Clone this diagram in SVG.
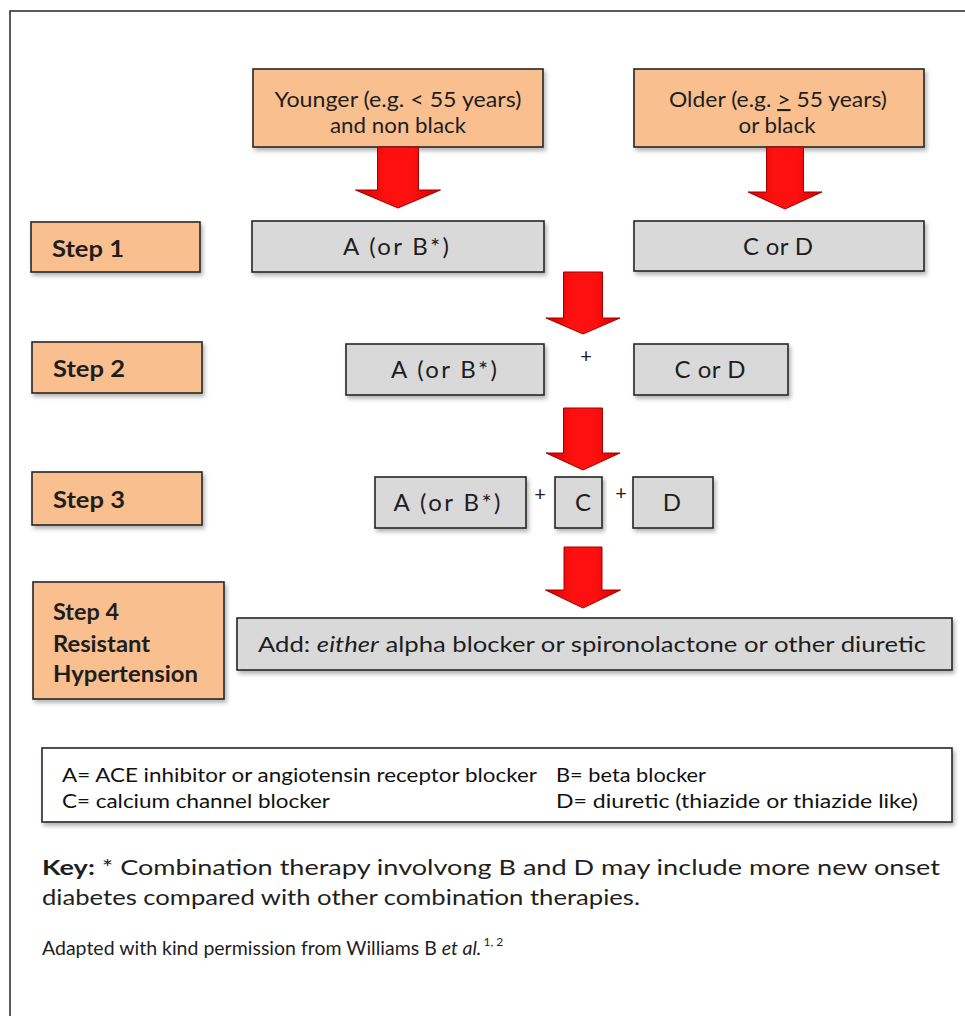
<svg xmlns="http://www.w3.org/2000/svg" width="965" height="1016" viewBox="0 0 965 1016">
<defs>
<style>
text{font-family:Lato,"Liberation Sans",sans-serif;fill:#1e1e1e}
.or{fill:#F9BF8F;stroke:#262626;stroke-width:1.6}
.gr{fill:#D9D9D9;stroke:#262626;stroke-width:1.6}
.lg{fill:#FFFFFF;stroke:#262626;stroke-width:1.6}
.hd{font-size:21px;text-anchor:middle}
.st{font-size:23px;font-weight:bold}
.bx{font-size:24px;text-anchor:middle}
.pl{font-size:20px;text-anchor:middle}
.le{font-size:18.5px;fill:#111}
.ky{font-size:21px}
.ar{fill:url(#red);stroke:#A00000;stroke-width:1}
</style>
<linearGradient id="red" x1="0" y1="0" x2="1" y2="0">
<stop offset="0" stop-color="#D00000"/>
<stop offset="0.35" stop-color="#FF1010"/>
<stop offset="0.65" stop-color="#FF1010"/>
<stop offset="1" stop-color="#D00000"/>
</linearGradient>
<filter id="sh" x="-5%" y="-10%" width="115%" height="130%">
<feDropShadow dx="2" dy="3" stdDeviation="2" flood-color="#000" flood-opacity="0.3"/>
</filter>
</defs>
<rect x="0" y="0" width="965" height="1016" fill="#FFFFFF"/>
<rect x="10" y="11" width="1000" height="1100" fill="none" stroke="#333" stroke-width="1.6"/>

<g id="younger">
<rect class="or" x="253" y="69" width="290" height="78" filter="url(#sh)"/>
<text class="hd" x="398" y="107" textLength="247" lengthAdjust="spacingAndGlyphs">Younger (e.g. &lt; 55 years)</text>
<text class="hd" x="398" y="133" textLength="136" lengthAdjust="spacingAndGlyphs">and non black</text>
</g>
<g id="older">
<rect class="or" x="634" y="69" width="290" height="78" filter="url(#sh)"/>
<text class="hd" x="778" y="107" textLength="218" lengthAdjust="spacingAndGlyphs">Older (e.g. <tspan text-decoration="underline">&gt;</tspan> 55 years)</text>
<text class="hd" x="777" y="133" textLength="77" lengthAdjust="spacingAndGlyphs">or black</text>
</g>

<g id="step1">
<rect class="or" x="31" y="222" width="169" height="50" filter="url(#sh)"/>
<text class="st" x="52" y="257" textLength="72" lengthAdjust="spacingAndGlyphs">Step 1</text>
</g>
<g id="s1a">
<rect class="gr" x="252" y="221" width="292" height="51" filter="url(#sh)"/>
<text class="bx" x="396" y="255" textLength="106" lengthAdjust="spacing">A (or B*)</text>
</g>
<g id="s1cd">
<rect class="gr" x="634" y="221" width="290" height="50" filter="url(#sh)"/>
<text class="bx" x="778" y="255" textLength="70" lengthAdjust="spacing">C or D</text>
</g>

<g id="step2">
<rect class="or" x="32" y="342" width="170" height="51" filter="url(#sh)"/>
<text class="st" x="53" y="377" textLength="72" lengthAdjust="spacingAndGlyphs">Step 2</text>
</g>
<g id="s2a">
<rect class="gr" x="346" y="344" width="198" height="51" filter="url(#sh)"/>
<text class="bx" x="444" y="378" textLength="106" lengthAdjust="spacing">A (or B*)</text>
</g>
<text class="pl" x="586" y="363">+</text>
<g id="s2cd">
<rect class="gr" x="634" y="344" width="154" height="51" filter="url(#sh)"/>
<text class="bx" x="710" y="378" textLength="71" lengthAdjust="spacing">C or D</text>
</g>

<g id="step3">
<rect class="or" x="32" y="472" width="170" height="53" filter="url(#sh)"/>
<text class="st" x="53" y="508" textLength="72" lengthAdjust="spacingAndGlyphs">Step 3</text>
</g>
<g id="s3a">
<rect class="gr" x="375" y="477" width="151" height="51" filter="url(#sh)"/>
<text class="bx" x="447" y="511" textLength="107" lengthAdjust="spacing">A (or B*)</text>
</g>
<text class="pl" x="540" y="501">+</text>
<g id="s3c">
<rect class="gr" x="555" y="477" width="47" height="51" filter="url(#sh)"/>
<text class="bx" x="583" y="511">C</text>
</g>
<text class="pl" x="621" y="500">+</text>
<g id="s3d">
<rect class="gr" x="633" y="477" width="80" height="51" filter="url(#sh)"/>
<text class="bx" x="672" y="511">D</text>
</g>

<g id="step4">
<rect class="or" x="33" y="582" width="191" height="117" filter="url(#sh)"/>
<text class="st" x="53" y="620" textLength="66" lengthAdjust="spacingAndGlyphs">Step 4</text>
<text class="st" x="53" y="652" textLength="97" lengthAdjust="spacingAndGlyphs">Resistant</text>
<text class="st" x="53" y="682" textLength="145" lengthAdjust="spacingAndGlyphs">Hypertension</text>
</g>
<g id="add">
<rect class="gr" x="237" y="618" width="715" height="52" filter="url(#sh)"/>
<text x="258" y="652" font-size="21" textLength="668" lengthAdjust="spacingAndGlyphs">Add: <tspan font-style="italic">either</tspan> alpha blocker or spironolactone or other diuretic</text>
</g>

<g id="legend">
<rect class="lg" x="42" y="748" width="910" height="74" filter="url(#sh)"/>
<text class="le" x="62" y="782" textLength="475" lengthAdjust="spacingAndGlyphs">A= ACE inhibitor or angiotensin receptor blocker</text>
<text class="le" x="556" y="782" textLength="150" lengthAdjust="spacingAndGlyphs">B= beta blocker</text>
<text class="le" x="62" y="808" textLength="268" lengthAdjust="spacingAndGlyphs">C= calcium channel blocker</text>
<text class="le" x="556" y="808" textLength="362" lengthAdjust="spacingAndGlyphs">D= diuretic (thiazide or thiazide like)</text>
</g>

<g id="connectors">
<path class="ar" d="M377.5,147 H418.5 V190 H440.5 L398,208 L355.5,190 H377.5 Z"/>
<path class="ar" d="M766.5,147 H803.5 V192 H822 L785,209 L748,192 H766.5 Z"/>
<path class="ar" d="M563.5,272 H602.5 V318 H620 L583,334 L546,318 H563.5 Z"/>
<path class="ar" d="M563.5,408 H602.5 V453 H620 L583,470 L546,453 H563.5 Z"/>
<path class="ar" d="M564,547 H602 V590 H620.5 L583,608 L545.5,590 H564 Z"/>
</g>

<g id="key">
<text class="ky" x="42" y="875" textLength="898" lengthAdjust="spacingAndGlyphs"><tspan font-weight="bold">Key:</tspan> * Combination therapy involvong B and D may include more new onset</text>
<text class="ky" x="42" y="905" textLength="598" lengthAdjust="spacingAndGlyphs">diabetes compared with other combination therapies.</text>
<text x="42" y="955" font-size="19.5">Adapted with kind permission from Williams B <tspan font-style="italic">et al.</tspan><tspan font-size="12" dx="2" dy="-9">1, 2</tspan></text>
</g>
</svg>
